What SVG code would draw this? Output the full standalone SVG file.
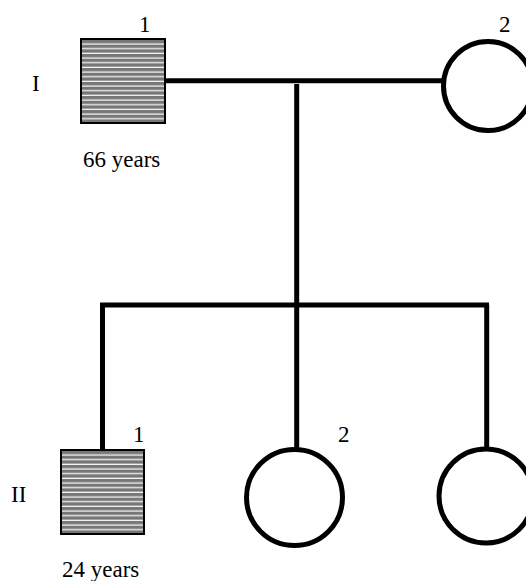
<svg xmlns="http://www.w3.org/2000/svg" width="526" height="581" viewBox="0 0 526 581">
<style>
.lbl{font-family:"Liberation Serif","Times New Roman",serif;font-size:23px;fill:#000}
.aff{fill:url(#hatch);stroke:#000;stroke-width:2}
.unaff{fill:#fff;stroke:#000;stroke-width:5}
.ln{stroke:#000;stroke-width:5;fill:none}
</style>
<defs>
<pattern id="hatch" patternUnits="userSpaceOnUse" x="0" y="40" width="10" height="4.67">
<rect width="10" height="4.67" fill="#777"/>
<rect y="3.4" width="10" height="1.2" fill="#fff"/>
</pattern>
</defs>
<rect width="526" height="581" fill="#fff"/>
<g id="connectors">
<line class="ln" x1="166" y1="80.7" x2="443" y2="80.7"/>
<line class="ln" x1="296.7" y1="84" x2="296.7" y2="450"/>
<line class="ln" x1="100" y1="305" x2="489" y2="305"/>
<line class="ln" x1="102.5" y1="305" x2="102.5" y2="450"/>
<line class="ln" x1="486.7" y1="305" x2="486.7" y2="450"/>
</g>
<g id="gen-I">
<text class="lbl" x="32" y="91">I</text>
</g>
<g id="I-1">
<rect class="aff" x="81" y="39" width="84" height="84"/>
<text class="lbl" x="139" y="32">1</text>
<text class="lbl" x="83" y="167">66 years</text>
</g>
<g id="I-2">
<circle class="unaff" cx="488" cy="86" r="44.5"/>
<text class="lbl" x="499" y="32">2</text>
</g>
<g id="gen-II">
<text class="lbl" x="11" y="502">II</text>
</g>
<g id="II-1">
<rect class="aff" x="61" y="450" width="83" height="84"/>
<text class="lbl" x="133" y="442">1</text>
<text class="lbl" x="62" y="577">24 years</text>
</g>
<g id="II-2">
<circle class="unaff" cx="294.5" cy="497.5" r="48"/>
<text class="lbl" x="338" y="442">2</text>
</g>
<g id="II-3">
<circle class="unaff" cx="486" cy="496" r="47"/>
</g>
</svg>
